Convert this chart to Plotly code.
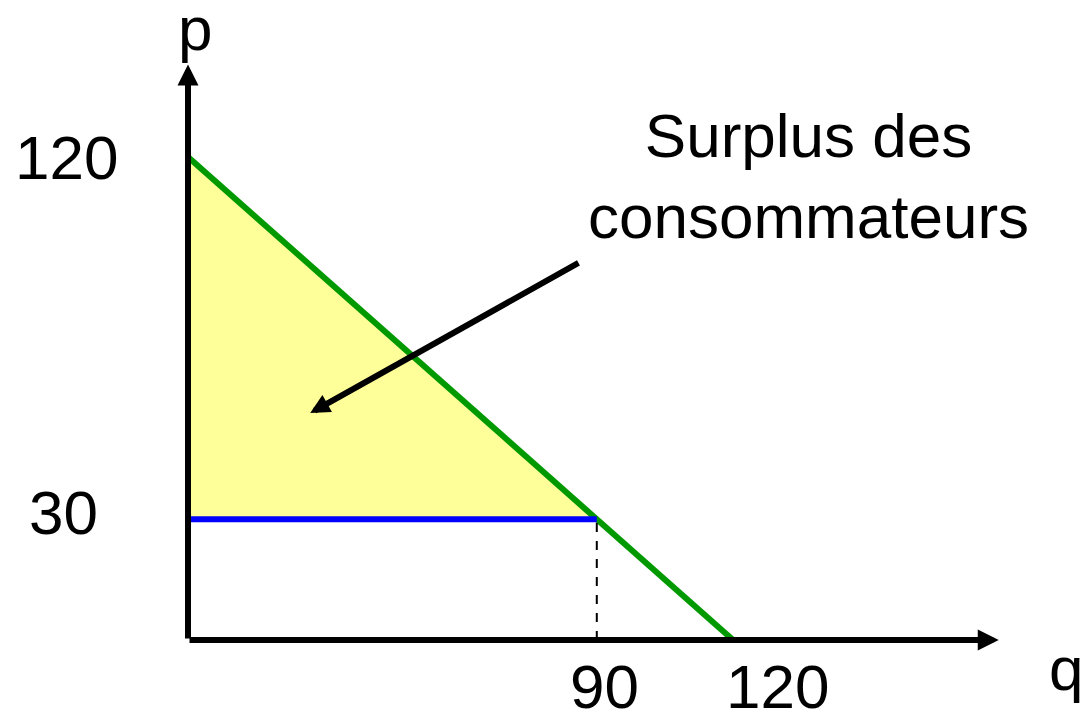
import plotly.graph_objects as go

# Demand curve endpoints (q, p)
demand_q = [0, 120]
demand_p = [120, 0]

# Market equilibrium
price = 30
quantity = 90

# Tick labels shown on the axes
p_ticks = [120, 30]
q_ticks = [90, 120]

# Axis extents (for the arrows)
q_max = 178.5
p_max = 143

# Annotation pointer (tail -> tip), in data units
arrow_tail = (86.3, 93.9)
arrow_tip = (26.9, 56.4)

FONT = "Arial, Liberation Sans, sans-serif"
BIG = 62

fig = go.Figure()

# Consumer surplus triangle
fig.add_trace(go.Scatter(
    x=[0, 0, quantity, 0],
    y=[demand_p[0], price, price, demand_p[0]],
    fill="toself", fillcolor="#ffff99",
    line=dict(width=0), mode="lines", hoverinfo="skip"
))

# Demand curve
fig.add_trace(go.Scatter(
    x=demand_q, y=demand_p, mode="lines",
    line=dict(color="#009900", width=6)
))

# Price line
fig.add_trace(go.Scatter(
    x=[0, quantity], y=[price, price], mode="lines",
    line=dict(color="#0000ff", width=6)
))

# Dashed quantity guide
fig.add_trace(go.Scatter(
    x=[quantity, quantity], y=[0, price], mode="lines",
    line=dict(color="black", width=2, dash="dash")
))

# Axes drawn as arrows
for tip in [(q_max, 0), (0, p_max)]:
    fig.add_annotation(
        x=tip[0], y=tip[1], ax=0, ay=0, xref="x", yref="y",
        axref="x", ayref="y", text="", showarrow=True,
        arrowhead=2, arrowsize=0.7, arrowwidth=6, arrowcolor="black"
    )

# Pointer to the surplus area
fig.add_annotation(
    x=arrow_tip[0], y=arrow_tip[1], ax=arrow_tail[0], ay=arrow_tail[1],
    xref="x", yref="y", axref="x", ayref="y", text="", showarrow=True,
    arrowhead=2, arrowsize=0.65, arrowwidth=6, arrowcolor="black"
)

# Axis names
fig.add_annotation(x=0, y=p_max, text="p", showarrow=False, xshift=7,
                   yshift=-1, yanchor="bottom",
                   font=dict(family=FONT, size=BIG, color="black"))
fig.add_annotation(x=q_max, y=0, text="q", showarrow=False, xanchor="left",
                   xshift=48, yshift=-29,
                   font=dict(family=FONT, size=BIG, color="black"))

# Tick labels
p_shift = {120: (-68, 0), 30: (-88, 7)}
for v in p_ticks:
    fig.add_annotation(x=0, y=v, text=str(v), showarrow=False,
                       xanchor="right", xshift=p_shift[v][0],
                       yshift=p_shift[v][1],
                       font=dict(family=FONT, size=BIG, color="black"))
q_shift = {90: 8, 120: 44}
for v in q_ticks:
    fig.add_annotation(x=v, y=0, text=str(v), showarrow=False,
                       xshift=q_shift[v], yshift=-47,
                       font=dict(family=FONT, size=BIG, color="black"))

# Surplus label
fig.add_annotation(x=136, y=112, text="Surplus des<br>consommateurs",
                   showarrow=False, xshift=3, yshift=13,
                   font=dict(family=FONT, size=BIG, color="black"))

# The page body adds an 8px margin, so the ranges are set to keep the
# origin where the reference has it.
fig.update_layout(
    width=1092, height=717,
    margin=dict(l=0, r=0, t=0, b=0),
    paper_bgcolor="white", plot_bgcolor="white",
    showlegend=False,
    xaxis=dict(range=[-39.63, 200.79], visible=False, fixedrange=True),
    yaxis=dict(range=[-21.12, 157.02], visible=False, fixedrange=True),
)

fig.write_html("out.html")
